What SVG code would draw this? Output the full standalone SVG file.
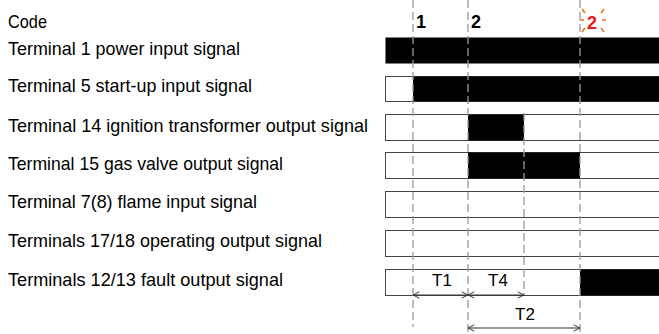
<svg xmlns="http://www.w3.org/2000/svg" width="659" height="334" viewBox="0 0 659 334">
<style>
.lbl{font-family:"Liberation Sans",Arial,sans-serif;font-size:19px;fill:#000}
.bar{fill:#fff;stroke:#444;stroke-width:1}
.on{fill:#000;stroke:none}
.dash{stroke:#999;stroke-width:1.3;stroke-dasharray:8,4;fill:none}
.dim{stroke:#333;stroke-width:1;fill:none;marker-start:url(#ah);marker-end:url(#ah)}
.num{font-family:"Liberation Sans",Arial,sans-serif;font-size:18px;font-weight:bold;fill:#000}
.t{font-family:"Liberation Sans",Arial,sans-serif;font-size:17px;fill:#000}
.ray{stroke:#f07020;stroke-width:1.5}
</style>
<defs>
<marker id="ah" viewBox="0 0 10 10" refX="10" refY="5" markerWidth="8" markerHeight="8" orient="auto-start-reverse" markerUnits="userSpaceOnUse">
<path d="M2,1 L10,5 L2,9" fill="none" stroke="#333" stroke-width="1.2"/>
</marker>
</defs>
<text class="lbl" x="8" y="28" textLength="39" lengthAdjust="spacingAndGlyphs">Code</text>
<g id="row1">
<text class="lbl" x="8" y="55" textLength="232" lengthAdjust="spacingAndGlyphs">Terminal 1 power input signal</text>
<rect class="on" x="385.5" y="37.5" width="280" height="26"/>
</g>
<g id="row2">
<text class="lbl" x="8" y="92" textLength="244" lengthAdjust="spacingAndGlyphs">Terminal 5 start-up input signal</text>
<rect class="bar" x="385.5" y="76.5" width="280" height="25"/>
<rect class="on" x="413" y="76.5" width="250" height="25"/>
</g>
<g id="row3">
<text class="lbl" x="8" y="132" textLength="360" lengthAdjust="spacingAndGlyphs">Terminal 14 ignition transformer output signal</text>
<rect class="bar" x="385.5" y="114.5" width="280" height="26"/>
<rect class="on" x="468" y="114.5" width="56" height="26"/>
</g>
<g id="row4">
<text class="lbl" x="8" y="170" textLength="275" lengthAdjust="spacingAndGlyphs">Terminal 15 gas valve output signal</text>
<rect class="bar" x="385.5" y="152.5" width="280" height="26"/>
<rect class="on" x="468" y="152.5" width="112" height="26"/>
</g>
<g id="row5">
<text class="lbl" x="8" y="208" textLength="249" lengthAdjust="spacingAndGlyphs">Terminal 7(8) flame input signal</text>
<rect class="bar" x="385.5" y="191.5" width="280" height="26"/>
</g>
<g id="row6">
<text class="lbl" x="8" y="247" textLength="314" lengthAdjust="spacingAndGlyphs">Terminals 17/18 operating output signal</text>
<rect class="bar" x="385.5" y="230.5" width="280" height="26"/>
</g>
<g id="row7">
<text class="lbl" x="8" y="286" textLength="275" lengthAdjust="spacingAndGlyphs">Terminals 12/13 fault output signal</text>
<rect class="bar" x="385.5" y="269.5" width="280" height="26"/>
<rect class="on" x="580" y="269.5" width="85" height="26"/>
</g>
<g id="markers">
<text class="num" x="416" y="28">1</text>
<text class="num" x="471" y="28">2</text>
<text class="num" x="587" y="29" style="fill:#e81818">2</text>
<line class="ray" x1="582" y1="9" x2="585" y2="13"/>
<line class="ray" x1="604" y1="9" x2="601" y2="13"/>
<line class="ray" x1="580" y1="20" x2="584" y2="20"/>
<line class="ray" x1="602" y1="20" x2="606" y2="20"/>
<line class="ray" x1="585" y1="28" x2="582" y2="32"/>
<line class="ray" x1="601" y1="28" x2="604" y2="32"/>
</g>
<g id="connectors">
<line class="dash" x1="413" y1="0" x2="413" y2="327"/>
<line class="dash" x1="468" y1="0" x2="468" y2="334"/>
<line class="dash" x1="524" y1="113" x2="524" y2="295"/>
<line class="dash" x1="580" y1="0" x2="580" y2="334"/>
<line class="dim" x1="413" y1="295" x2="468" y2="295"/>
<line class="dim" x1="468" y1="295" x2="524" y2="295"/>
<line class="dim" x1="468" y1="328" x2="580" y2="328"/>
<text class="t" x="432" y="286">T1</text>
<text class="t" x="488" y="286">T4</text>
<text class="t" x="515" y="320">T2</text>
</g>
</svg>
